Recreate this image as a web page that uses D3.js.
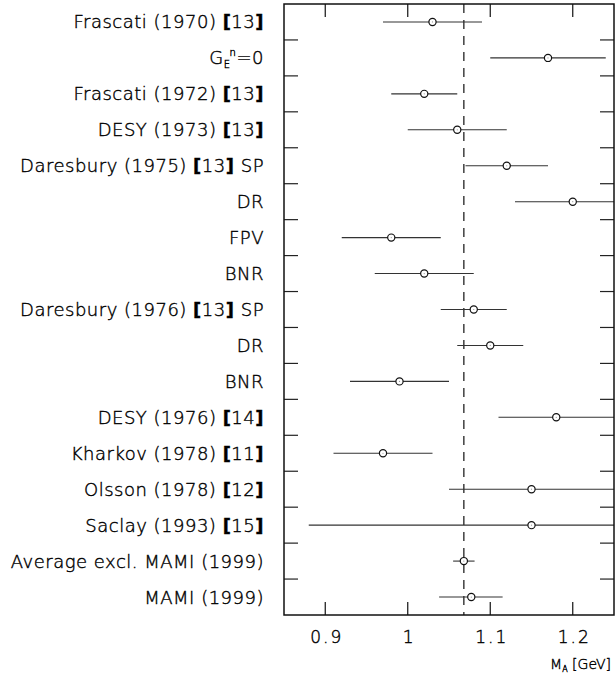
<!DOCTYPE html>
<html><head><meta charset="utf-8">
<script src="https://cdn.jsdelivr.net/npm/d3@7"></script>
<style>
body{margin:0;background:#fff;}
svg{display:block;}
text{font-family:"DejaVu Sans",sans-serif;fill:#000;font-weight:200;stroke:#000;stroke-width:0.4px;}
</style></head>
<body>
<script>
// Data
const labels = [
  "Frascati (1970) [13]", "GEn=0", "Frascati (1972) [13]", "DESY (1973) [13]",
  "Daresbury (1975) [13] SP", "DR", "FPV", "BNR", "Daresbury (1976) [13] SP",
  "DR", "BNR", "DESY (1976) [14]", "Kharkov (1978) [11]", "Olsson (1978) [12]",
  "Saclay (1993) [15]", "Average excl. MAMI (1999)", "MAMI (1999)"
];
const values = [1.03, 1.17, 1.02, 1.06, 1.12, 1.20, 0.98, 1.02, 1.08, 1.10, 0.99, 1.18, 0.97, 1.15, 1.15, 1.068, 1.077];
const errLow  = [0.06, 0.07, 0.04, 0.06, 0.05, 0.07, 0.06, 0.06, 0.04, 0.04, 0.06, 0.07, 0.06, 0.10, 0.27, 0.013, 0.039];
const errHigh = [0.06, 0.07, 0.04, 0.06, 0.05, 0.07, 0.06, 0.06, 0.04, 0.04, 0.06, 0.07, 0.06, 0.10, 0.27, 0.013, 0.038];
const refValue = 1.068;
const xTicks = [0.9, 1.0, 1.1, 1.2];
const xTickLabels = ["0.9", "1", "1.1", "1.2"];
const xDomain = [0.85, 1.25];

const W = 615, H = 673;
const L = 284, R = 614, T = 4, B = 615;

const svg = d3.select("body").append("svg").attr("width", W).attr("height", H);

const x = d3.scaleLinear().domain(xDomain).range([L, R]);
const y = d3.scaleBand().domain(d3.range(labels.length)).range([T, B]).paddingInner(0).paddingOuter(0);

svg.append("defs").append("clipPath").attr("id", "clip").append("rect")
  .attr("x", L).attr("y", T).attr("width", R - L).attr("height", B - T);

// Row separator ticks (left & right)
const seps = d3.range(1, labels.length);
svg.append("g").selectAll("line").data(seps).join("line")
  .attr("x1", L).attr("x2", L + 14)
  .attr("y1", d => y(d)).attr("y2", d => y(d))
  .attr("stroke", "#222").attr("stroke-width", 1.2);
svg.append("g").selectAll("line").data(seps).join("line")
  .attr("x1", R - 14).attr("x2", R)
  .attr("y1", d => y(d)).attr("y2", d => y(d))
  .attr("stroke", "#222").attr("stroke-width", 1.2);

// X ticks top & bottom (inward)
svg.append("g").selectAll("line").data(xTicks).join("line")
  .attr("x1", d => x(d)).attr("x2", d => x(d)).attr("y1", T).attr("y2", T + 13)
  .attr("stroke", "#111").attr("stroke-width", 1.2);
svg.append("g").selectAll("line").data(xTicks).join("line")
  .attr("x1", d => x(d)).attr("x2", d => x(d)).attr("y1", B - 13).attr("y2", B)
  .attr("stroke", "#111").attr("stroke-width", 1.2);

const xAxisB = d3.axisBottom(x).tickValues(xTicks).tickSize(0).tickFormat((d, i) => xTickLabels[i]);
const gx = svg.append("g").attr("transform", `translate(0,${B})`).call(xAxisB);
gx.select(".domain").remove();
gx.selectAll("text").attr("font-size", 17).attr("dy", "1.45em").attr("dx", 1)
  .style("font-family", "DejaVu Sans, sans-serif").style("font-weight", 200)
  .style("letter-spacing", "2px").style("fill", "#000").style("stroke", "#000").style("stroke-width", "0.4px");

// Reference dashed line
svg.append("line")
  .attr("x1", x(refValue)).attr("x2", x(refValue)).attr("y1", T).attr("y2", B)
  .attr("stroke", "#222").attr("stroke-width", 1.3).attr("stroke-dasharray", "9,7");

// Error bars
const plot = svg.append("g").attr("clip-path", "url(#clip)");
plot.selectAll("line").data(values).join("line")
  .attr("x1", (d, i) => x(d - errLow[i])).attr("x2", (d, i) => x(d + errHigh[i]))
  .attr("y1", (d, i) => y(i) + y.bandwidth() / 2).attr("y2", (d, i) => y(i) + y.bandwidth() / 2)
  .attr("stroke", "#333").attr("stroke-width", 1.1);

// Markers
plot.selectAll("circle.pt").data(values).join("circle").attr("class", "pt")
  .attr("cx", d => x(d)).attr("cy", (d, i) => y(i) + y.bandwidth() / 2)
  .attr("r", 3.6).attr("fill", "#fff").attr("stroke", "#111").attr("stroke-width", 1.2);
plot.selectAll("circle.dot").data(values).join("circle").attr("class", "dot")
  .attr("cx", d => x(d)).attr("cy", (d, i) => y(i) + y.bandwidth() / 2)
  .attr("r", 0.6).attr("fill", "#999");

// Frame
svg.append("rect").attr("x", L).attr("y", T).attr("width", R - L).attr("height", B - T)
  .attr("fill", "none").attr("stroke", "#111").attr("stroke-width", 1.5);

// Labels
const lab = svg.append("g");
labels.forEach((s, i) => {
  const t = lab.append("text")
    .attr("x", 264).attr("y", y(i) + y.bandwidth() / 2)
    .attr("dy", "0.36em").attr("text-anchor", "end").attr("font-size", 18)
    .style("letter-spacing", "0.5px");
  if (s === "GEn=0") {
    t.append("tspan").text("G");
    t.append("tspan").attr("font-size", 10).attr("dy", 4).text("E");
    t.append("tspan").attr("font-size", 10).attr("dy", -12).attr("dx", -1).text("n");
    t.append("tspan").attr("dy", 8).text("=0");
    return;
  }
  const m = s.match(/^(.*?)\[(\d+)\](.*)$/);
  if (m) {
    t.append("tspan").text(m[1]);
    t.append("tspan").style("font-weight", "bold").text("[");
    t.append("tspan").text(m[2]);
    t.append("tspan").style("font-weight", "bold").text("]");
    t.append("tspan").text(m[3]);
  } else {
    t.text(s);
  }
});

// Axis title
const at = svg.append("text").attr("x", 611).attr("y", 669).attr("text-anchor", "end").attr("font-size", 14);
at.append("tspan").text("M");
at.append("tspan").attr("font-size", 8).attr("dy", 3).text("A");
at.append("tspan").attr("dy", -3).text(" [GeV]");
</script>
</body></html>
